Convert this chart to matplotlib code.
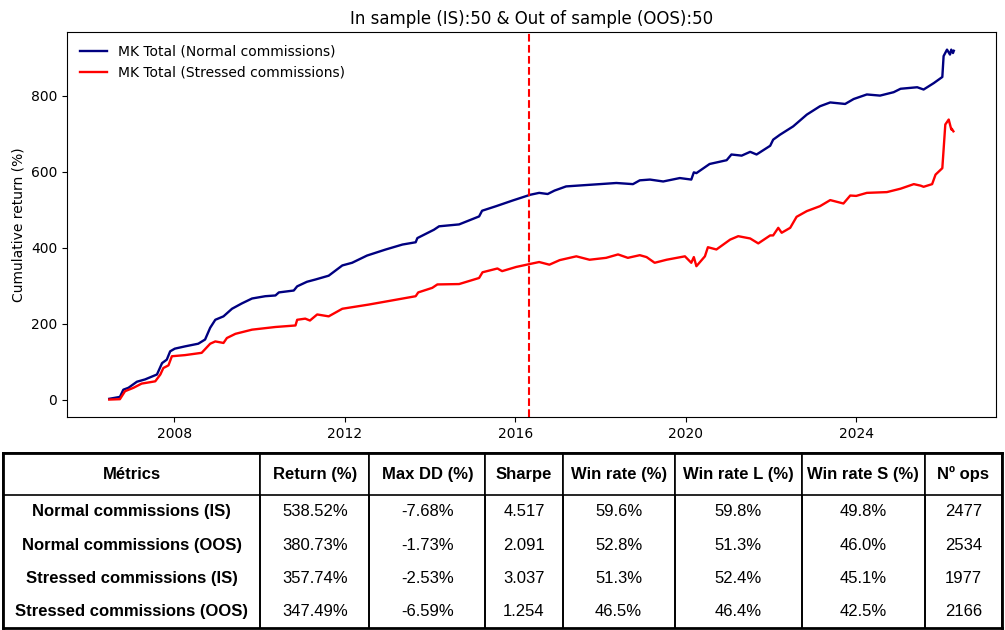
import numpy as np
import pandas as pd
import matplotlib
matplotlib.use('Agg')
import matplotlib.pyplot as plt
import matplotlib.dates as mdates

# cumulative return curves (decimal year, % return)
norm_years = [2006.47, 2006.72, 2006.80, 2006.92, 2007.12, 2007.31, 2007.59, 2007.71, 2007.82, 2007.90,
              2008.01, 2008.25, 2008.56, 2008.72, 2008.84, 2008.96, 2009.15, 2009.35, 2009.58, 2009.82,
              2010.13, 2010.37, 2010.45, 2010.80, 2010.88, 2011.11, 2011.31, 2011.62, 2011.94, 2012.17,
              2012.52, 2012.96, 2013.35, 2013.66, 2013.70, 2014.09, 2014.21, 2014.68, 2015.15, 2015.22,
              2015.55, 2015.94, 2016.35, 2016.56, 2016.76, 2016.92, 2017.19, 2017.58, 2017.98, 2018.37,
              2018.76, 2018.92, 2019.16, 2019.47, 2019.86, 2020.13, 2020.19, 2020.25, 2020.56, 2020.96,
              2021.07, 2021.31, 2021.51, 2021.66, 2021.98, 2022.05, 2022.21, 2022.52, 2022.84, 2023.15,
              2023.39, 2023.74, 2023.94, 2024.25, 2024.56, 2024.88, 2025.04, 2025.43, 2025.58, 2025.82,
              2026.02, 2026.05, 2026.13, 2026.20, 2026.23, 2026.27, 2026.29]
norm_vals = [2, 7, 26, 31, 47, 53, 66, 96, 105, 127,
             134, 140, 147, 158, 189, 210, 219, 239, 253, 266,
             272, 274, 282, 287, 298, 310, 316, 326, 353, 360,
             379, 395, 408, 414, 425, 447, 456, 461, 482, 497,
             509, 524, 539, 544, 541, 550, 561, 564, 567, 570,
             567, 577, 579, 574, 583, 579, 598, 596, 620, 630,
             645, 642, 652, 645, 668, 684, 697, 719, 750, 772,
             782, 778, 791, 803, 800, 809, 818, 822, 816, 833,
             849, 904, 921, 908, 921, 912, 918]

stress_years = [2006.47, 2006.72, 2006.84, 2007.04, 2007.23, 2007.55, 2007.67, 2007.74, 2007.86, 2007.94,
                2008.25, 2008.64, 2008.84, 2008.96, 2009.15, 2009.23, 2009.43, 2009.82, 2010.37, 2010.84,
                2010.88, 2011.07, 2011.18, 2011.35, 2011.62, 2011.94, 2012.56, 2013.11, 2013.66, 2013.72,
                2014.05, 2014.17, 2014.68, 2015.15, 2015.23, 2015.58, 2015.69, 2016.02, 2016.35, 2016.56,
                2016.80, 2017.04, 2017.43, 2017.74, 2018.13, 2018.41, 2018.64, 2018.92, 2019.08, 2019.27,
                2019.55, 2019.98, 2020.13, 2020.19, 2020.25, 2020.45, 2020.52, 2020.72, 2021.04, 2021.23,
                2021.51, 2021.70, 2021.98, 2022.05, 2022.17, 2022.25, 2022.45, 2022.60, 2022.84, 2023.15,
                2023.39, 2023.70, 2023.86, 2024.00, 2024.25, 2024.72, 2025.04, 2025.35, 2025.51, 2025.58,
                2025.78, 2025.86, 2026.02, 2026.05, 2026.09, 2026.17, 2026.23, 2026.24, 2026.28]
stress_vals = [0, 1, 22, 31, 42, 48, 66, 83, 90, 114,
               117, 123, 147, 153, 149, 162, 173, 184, 191, 195,
               210, 213, 208, 224, 219, 239, 250, 261, 272, 282,
               294, 303, 304, 320, 335, 345, 338, 349, 357, 362,
               355, 367, 377, 368, 373, 382, 373, 380, 375, 360,
               368, 377, 360, 375, 351, 377, 401, 395, 421, 430,
               424, 411, 432, 432, 452, 439, 452, 481, 496, 509,
               525, 516, 537, 536, 544, 546, 555, 567, 563, 560,
               567, 592, 609, 658, 724, 737, 711, 713, 706]

split_year = 2016.33

# metrics table
col_labels = ['Métrics', 'Return (%)', 'Max DD (%)', 'Sharpe', 'Win rate (%)',
              'Win rate L (%)', 'Win rate S (%)', 'Nº ops']
row_names = ['Normal commissions (IS)', 'Normal commissions (OOS)',
             'Stressed commissions (IS)', 'Stressed commissions (OOS)']
returns = ['538.52%', '380.73%', '357.74%', '347.49%']
max_dd = ['-7.68%', '-1.73%', '-2.53%', '-6.59%']
sharpe = ['4.517', '2.091', '3.037', '1.254']
win_rate = ['59.6%', '52.8%', '51.3%', '46.5%']
win_rate_l = ['59.8%', '51.3%', '52.4%', '46.4%']
win_rate_s = ['49.8%', '46.0%', '45.1%', '42.5%']
n_ops = ['2477', '2534', '1977', '2166']


def to_date(y):
    yr = int(y)
    return pd.Timestamp(yr, 1, 1) + pd.Timedelta(days=(y - yr) * 365.25)


norm_dates = [to_date(y) for y in norm_years]
stress_dates = [to_date(y) for y in stress_years]

fig = plt.figure(figsize=(10.05, 6.3), dpi=100)
ax = fig.add_axes([0.0667, 0.338, 0.9244, 0.611])

ax.plot(norm_dates, norm_vals, color='navy', lw=1.7, label='MK Total (Normal commissions)')
ax.plot(stress_dates, stress_vals, color='red', lw=1.7, label='MK Total (Stressed commissions)')
ax.axvline(to_date(split_year), color='red', ls='--', lw=1.5)

ax.xaxis.set_major_locator(mdates.YearLocator(4))
ax.xaxis.set_major_formatter(mdates.DateFormatter('%Y'))
ax.set_yticks([0, 200, 400, 600, 800])
ax.set_ylabel('Cumulative return (%)')
ax.set_title('In sample (IS):50 & Out of sample (OOS):50', fontsize=12)
ax.legend(loc='upper left', frameon=False)

# table below the chart
tax = fig.add_axes([0.003, 0.003, 0.994, 0.278])
tax.set_xticks([])
tax.set_yticks([])
for s in tax.spines.values():
    s.set_linewidth(2)

cell_text = [list(r) for r in zip(row_names, returns, max_dd, sharpe, win_rate,
                                  win_rate_l, win_rate_s, n_ops)]
widths = np.array([257, 109, 116, 77, 112, 127, 123, 77], dtype=float)
widths = widths / widths.sum()

tbl = tax.table(cellText=cell_text, colLabels=col_labels, colWidths=list(widths),
                cellLoc='center', bbox=[0, 0, 1, 1])
tbl.auto_set_font_size(False)
for (r, c), cell in tbl.get_celld().items():
    cell.set_linewidth(1.2)
    txt = cell.get_text()
    txt.set_fontfamily('Liberation Sans')
    txt.set_fontsize(12)
    if r == 0:
        cell.set_height(42)
        cell.visible_edges = 'closed'
        txt.set_fontweight('bold')
    else:
        cell.set_height(33)
        cell.visible_edges = 'LR'
        if c == 0:
            txt.set_fontweight('bold')

fig.savefig('out.png', dpi=100)
